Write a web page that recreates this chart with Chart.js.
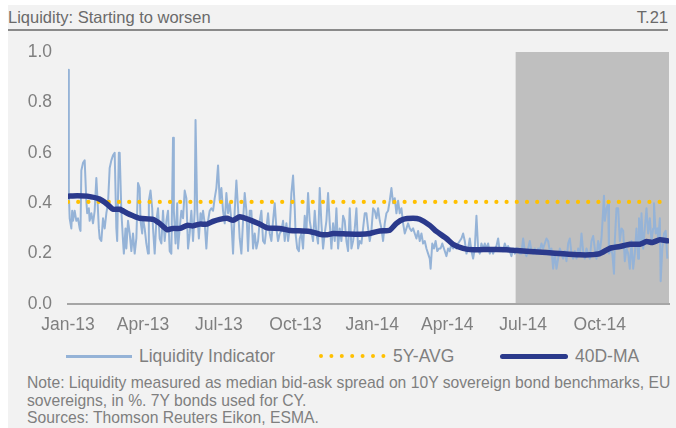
<!DOCTYPE html>
<html><head><meta charset="utf-8">
<script src="https://cdn.jsdelivr.net/npm/chart.js@4.4.1/dist/chart.umd.min.js"></script>
<style>
html,body{margin:0;padding:0;background:#fff;width:676px;height:428px;overflow:hidden;font-family:"Liberation Sans",Arial,sans-serif;}
#panel{position:absolute;left:8px;top:5px;width:668px;height:423px;background:#f2f2f2;}
.t{position:absolute;white-space:nowrap;color:#7f7f7f;}
#title{left:8px;top:8px;font-size:16.5px;line-height:19px;color:#6a6a6a;}
#tnum{right:8px;top:8px;font-size:16.5px;line-height:19px;color:#6a6a6a;}
#rule{position:absolute;left:8px;top:28.5px;width:660px;height:2px;background:#8a8a8a;}
#wrap{position:absolute;left:0;top:30px;width:676px;height:316px;}
#wrap canvas{display:block;}
.leg{font-size:17.5px;line-height:20px;top:346px;}
.note{left:27px;font-size:15.7px;line-height:17.5px;}
</style></head><body>
<div id="panel"></div>
<div class="t" id="title">Liquidity: Starting to worsen</div>
<div class="t" id="tnum">T.21</div>
<div id="rule"></div>
<div id="wrap"><canvas id="c" width="676" height="316"></canvas></div>
<div style="position:absolute;left:66px;top:355px;width:66px;height:3px;background:#95b3d7;"></div>
<div class="t leg" style="left:139px;">Liquidity Indicator</div>
<svg style="position:absolute;left:316px;top:350px;" width="74" height="12"><line x1="5" y1="6" x2="68" y2="6" stroke="#ffc000" stroke-width="4" stroke-linecap="round" stroke-dasharray="0 10.4"/></svg>
<div class="t leg" style="left:393px;">5Y-AVG</div>
<div style="position:absolute;left:500px;top:353.5px;width:68px;height:5.5px;border-radius:2.75px;background:#2b3a8c;"></div>
<div class="t leg" style="left:575px;">40D-MA</div>
<div class="t note" style="top:374px;">Note: Liquidity measured as median bid-ask spread on 10Y sovereign bond benchmarks, EU</div>
<div class="t note" style="top:391.5px;">sovereigns, in %. 7Y bonds used for CY.</div>
<div class="t note" style="top:409px;">Sources: Thomson Reuters Eikon, ESMA.</div>
<script>
// x values are days since 1 Jan 2013
const tickDays = [0, 90, 181, 273, 365, 455, 546, 638];
const tickLabels = ["Jan-13", "Apr-13", "Jul-13", "Oct-13", "Jan-14", "Apr-14", "Jul-14", "Oct-14"];
const xRange = [0, 721];
const shadeRange = [537, 721];
const avgValue = 0.405;

const liquidityIndicator = [
[0,0.93],[1,0.44],[2,0.34],[4,0.30],[5,0.37],[6,0.33],[8,0.37],[10,0.33],[12,0.34],[14,0.30],[15,0.29],[16,0.53],[18,0.56],[20,0.57],[22,0.41],[23,0.36],[25,0.38],[26,0.33],[28,0.36],[30,0.32],[32,0.37],[34,0.50],[35,0.44],[37,0.30],[38,0.26],[40,0.25],[42,0.34],[44,0.30],[46,0.36],[48,0.40],[50,0.54],[52,0.57],[54,0.59],[56,0.60],[58,0.30],[59,0.25],[61,0.60],[62,0.60],[64,0.37],[66,0.25],[67,0.20],[69,0.30],[70,0.22],[72,0.33],[74,0.28],[76,0.21],[78,0.28],[80,0.20],[82,0.26],[84,0.48],[86,0.46],[87,0.33],[89,0.28],[90,0.34],[92,0.30],[94,0.24],[96,0.20],[97,0.41],[99,0.45],[101,0.38],[102,0.30],
[104,0.20],[106,0.33],[108,0.38],[110,0.26],[112,0.24],[114,0.37],[116,0.25],[118,0.33],[120,0.37],[122,0.21],[124,0.20],[126,0.66],[127,0.37],[129,0.24],[131,0.40],[132,0.22],[134,0.30],[136,0.37],[138,0.34],[140,0.45],[142,0.42],[144,0.22],[146,0.28],[148,0.37],[150,0.25],[152,0.37],[153,0.73],[155,0.37],[157,0.26],[159,0.36],[160,0.32],[162,0.37],[164,0.32],[166,0.22],[168,0.33],[170,0.37],[172,0.38],[174,0.37],[176,0.42],[178,0.46],[180,0.55],[182,0.41],[184,0.46],[186,0.37],[188,0.32],[190,0.44],[192,0.36],[194,0.40],[196,0.33],[198,0.20],[200,0.37],[202,0.49],[204,0.38],[206,0.26],[208,0.20],[210,0.33],[212,0.44],[214,0.37],[216,0.21],[218,0.37],
[220,0.37],[222,0.22],[224,0.28],[226,0.22],[228,0.25],[230,0.33],[232,0.37],[234,0.25],[236,0.24],[238,0.30],[240,0.36],[242,0.28],[244,0.25],[246,0.33],[248,0.40],[250,0.30],[252,0.25],[254,0.28],[256,0.29],[258,0.33],[260,0.25],[262,0.32],[264,0.25],[266,0.30],[268,0.44],[270,0.51],[272,0.38],[273,0.28],[275,0.22],[277,0.21],[278,0.26],[280,0.28],[282,0.22],[284,0.35],[286,0.29],[288,0.44],[290,0.33],[292,0.29],[294,0.25],[296,0.37],[298,0.28],[300,0.24],[302,0.46],[304,0.32],[306,0.22],[308,0.28],[310,0.33],[312,0.44],[314,0.32],[316,0.22],[318,0.32],[320,0.25],[322,0.38],[324,0.22],[326,0.30],[328,0.25],[330,0.35],[332,0.33],
[334,0.25],[336,0.21],[338,0.38],[340,0.22],[342,0.25],[344,0.30],[346,0.38],[348,0.22],[350,0.25],[352,0.24],[354,0.30],[356,0.36],[358,0.36],[360,0.30],[362,0.25],[364,0.29],[366,0.38],[368,0.37],[370,0.34],[372,0.38],[374,0.33],[376,0.30],[378,0.25],[380,0.32],[382,0.36],[384,0.37],[386,0.41],[388,0.46],[390,0.40],[392,0.42],[394,0.36],[396,0.41],[398,0.36],[400,0.38],[402,0.32],[404,0.28],[406,0.30],[408,0.32],[410,0.30],[412,0.29],[414,0.30],[416,0.28],[418,0.26],[420,0.29],[422,0.25],[424,0.28],[426,0.24],[428,0.25],[430,0.22],[432,0.20],[434,0.18],[435,0.14],[437,0.24],[439,0.22],[441,0.25],[443,0.21],[445,0.22],[447,0.22],[449,0.24],[451,0.22],
[454,0.19],[456,0.22],[458,0.21],[460,0.24],[462,0.22],[464,0.23],[466,0.22],[468,0.24],[470,0.25],[472,0.26],[474,0.28],[476,0.25],[478,0.20],[480,0.22],[482,0.26],[484,0.21],[486,0.18],[488,0.22],[490,0.35],[492,0.22],[494,0.20],[496,0.24],[498,0.22],[500,0.24],[502,0.22],[504,0.24],[506,0.20],[508,0.22],[510,0.20],[512,0.22],[514,0.23],[516,0.26],[518,0.21],[520,0.22],[522,0.21],[524,0.24],[526,0.22],[528,0.23],[530,0.21],[532,0.19],[534,0.22],[536,0.20],[538,0.22],[540,0.22],[542,0.20],[544,0.20],[546,0.26],[548,0.21],[550,0.19],[552,0.22],[554,0.25],[556,0.21],[558,0.20],[560,0.22],
[562,0.20],[564,0.22],[566,0.21],[568,0.24],[570,0.22],[572,0.24],[574,0.26],[576,0.25],[578,0.21],[580,0.22],[582,0.14],[584,0.20],[586,0.14],[588,0.18],[590,0.22],[592,0.20],[594,0.18],[596,0.21],[598,0.17],[600,0.24],[602,0.26],[604,0.20],[606,0.18],[608,0.21],[610,0.18],[612,0.22],[614,0.19],[616,0.28],[618,0.21],[620,0.18],[622,0.22],[624,0.20],[626,0.18],[628,0.25],[630,0.27],[632,0.22],[634,0.18],[636,0.25],[638,0.21],[640,0.26],
[643,0.43],[644,0.33],[646,0.38],[648,0.40],[649,0.20],[651,0.22],[653,0.20],[655,0.12],[656,0.25],[658,0.38],[660,0.38],[662,0.25],[664,0.30],[666,0.29],[668,0.17],[670,0.22],[672,0.20],[674,0.14],[676,0.25],[678,0.14],[680,0.20],[682,0.30],[684,0.18],[685,0.34],[687,0.25],[688,0.36],[690,0.22],[692,0.30],[694,0.38],[696,0.28],[698,0.34],[700,0.25],[702,0.30],[703,0.40],[705,0.28],[707,0.30],[708,0.25],[710,0.34],[711,0.09],[713,0.22],[715,0.28],[717,0.29],[719,0.18]
];

const movingAverage40D = [
[0,0.428],[11,0.430],[23,0.428],[38,0.416],[47,0.396],[54,0.376],[62,0.376],[71,0.360],[78,0.350],[86,0.340],[102,0.336],[110,0.320],[119,0.295],[126,0.300],[134,0.300],[143,0.312],[150,0.310],[158,0.317],[167,0.317],[174,0.328],[182,0.336],[191,0.340],[198,0.332],[206,0.346],[218,0.334],[230,0.317],[239,0.302],[254,0.300],[266,0.292],[290,0.288],[302,0.277],[311,0.275],[318,0.280],[335,0.278],[350,0.277],[362,0.280],[374,0.290],[386,0.293],[394,0.320],[402,0.336],[414,0.340],[422,0.336],[434,0.312],[442,0.288],[454,0.260],[462,0.237],[474,0.221],[486,0.215],[498,0.216],[514,0.216],[526,0.215],[538,0.212],[554,0.208],[574,0.204],[594,0.199],[614,0.195],[626,0.195],[638,0.200],[650,0.221],[662,0.228],[674,0.237],[686,0.237],[694,0.248],[701,0.244],[710,0.255],[719,0.251]
];

const seriesNames = ["Liquidity Indicator", "5Y-AVG", "40D-MA"];

const toXY = arr => arr.map(p => ({x: p[0], y: p[1]}));
const axisFont = {family: "'Liberation Sans', Arial, sans-serif", size: 17.5};

const shadePlugin = {
  id: 'shade',
  beforeDraw(chart) {
    const {ctx, scales: {x, y}} = chart;
    const x0 = x.getPixelForValue(shadeRange[0]);
    const x1 = x.getPixelForValue(shadeRange[1]);
    const yTop = y.getPixelForValue(1.0);
    const yBot = y.getPixelForValue(0);
    ctx.save();
    ctx.fillStyle = '#bfbfbf';
    ctx.fillRect(x0, yTop, x1 - x0, yBot - yTop);
    ctx.restore();
  }
};

new Chart(document.getElementById('c'), {
  type: 'line',
  data: {
    datasets: [
      {label: seriesNames[0], data: toXY(liquidityIndicator), borderColor: '#95b3d7', borderWidth: 2, pointRadius: 0, tension: 0, order: 3, borderJoinStyle: 'round'},
      {label: seriesNames[1], data: [{x: xRange[0], y: avgValue}, {x: xRange[1], y: avgValue}], borderColor: '#ffc000', borderWidth: 4.2, borderDash: [0, 10.2], borderCapStyle: 'round', pointRadius: 0, order: 2},
      {label: seriesNames[2], data: toXY(movingAverage40D), borderColor: '#2b3a8c', borderWidth: 5.5, pointRadius: 0, tension: 0.2, order: 1, borderJoinStyle: 'round', borderCapStyle: 'round'}
    ]
  },
  options: {
    responsive: false,
    devicePixelRatio: 1,
    animation: false,
    layout: {padding: {top: 22, right: 7, left: 0, bottom: 0}},
    plugins: {legend: {display: false}, tooltip: {enabled: false}},
    scales: {
      x: {
        type: 'linear', min: xRange[0], max: xRange[1],
        afterBuildTicks: s => { s.ticks = tickDays.map(v => ({value: v})); },
        afterFit: s => { s.height = 42; },
        ticks: {callback: v => tickLabels[tickDays.indexOf(v)], autoSkip: false, maxRotation: 0, color: '#7f7f7f', font: axisFont, padding: 11},
        grid: {display: false, drawTicks: false},
        border: {display: true, color: '#a6a6a6', width: 2}
      },
      y: {
        min: 0, max: 1,
        afterFit: s => { s.width = 68; s.paddingTop = 0; s.paddingBottom = 0; },
        ticks: {stepSize: 0.2, callback: v => Number(v).toFixed(1), color: '#7f7f7f', font: axisFont, padding: 16},
        grid: {display: false, drawTicks: false},
        border: {display: false}
      }
    }
  },
  plugins: [shadePlugin]
});
</script>
</body></html>
